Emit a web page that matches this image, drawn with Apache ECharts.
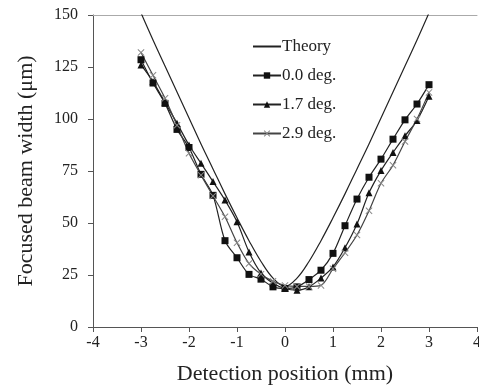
<!DOCTYPE html>
<html>
<head>
<meta charset="utf-8">
<script src="https://cdn.jsdelivr.net/npm/echarts@6/dist/echarts.min.js"></script>
<style>
  html, body { margin: 0; padding: 0; background: #fff; }
  #chart { width: 479px; height: 389px; }
</style>
</head>
<body>
<div id="chart"></div>
<script>
// detection positions (mm)
const positions = [-3, -2.75, -2.5, -2.25, -2, -1.75, -1.5, -1.25, -1, -0.75, -0.5, -0.25, 0,
  0.25, 0.5, 0.75, 1, 1.25, 1.5, 1.75, 2, 2.25, 2.5, 2.75, 3];

const theory = [151, 138, 125.5, 113, 100.5, 88, 76, 64, 52.5, 41.5, 31.5, 23.5, 19.5,
  23.5, 31.5, 41.5, 52.5, 64, 76, 88, 100.5, 113, 125.5, 138, 151];
const deg00 = [128.5, 117.3, 107.5, 95, 86.3, 73.4, 63.3, 41.5, 33.3, 25.3, 23, 19.3, 18.5,
  19.3, 22.8, 27.3, 35.4, 48.7, 61.5, 72, 80.7, 90.3, 99.6, 107.2, 116.5];
const deg17 = [126, 118, 108, 98, 87.5, 78.7, 69.9, 61, 50.6, 36.1, 26, 21, 18.5,
  17.7, 19.3, 23.5, 28.9, 38.1, 49.5, 64.5, 75.2, 83.9, 91.9, 99.3, 110.9];
const deg29 = [132, 121, 110, 97, 83.5, 73, 63, 53, 40.5, 30.5, 25.4, 22, 20,
  19.5, 19.5, 20, 28, 35.7, 44.2, 55.9, 69.1, 77.8, 89.2, 100, 112.8];

const seriesNames = ["Theory", "0.0 deg.", "1.7 deg.", "2.9 deg."];

const toPairs = (vals) => positions.map((x, i) => [x, vals[i]]);

const crossPath = "path://M0,1L1,0L5,4L9,0L10,1L6,5L10,9L9,10L5,6L1,10L0,9L4,5Z";
const serif = "Liberation Serif";

var chartDom = document.getElementById("chart");
var myChart = echarts.init(chartDom);

var option = {
  animation: false,
  textStyle: { fontFamily: serif },
  grid: { left: 93, right: 2, top: 15, bottom: 62, outerBoundsMode: "none" },
  legend: {
    data: [
      { name: seriesNames[0], itemStyle: { opacity: 0 } },
      seriesNames[1],
      seriesNames[2],
      seriesNames[3],
    ],
    orient: "vertical",
    left: 247,
    top: 33,
    itemGap: 12,
    itemWidth: 28,
    itemHeight: 8,
    textStyle: { fontFamily: serif, fontSize: 17, color: "#222", padding: [0, 0, 0, -4] },
  },
  xAxis: [
    {
      type: "value",
      min: -4,
      max: 4,
      interval: 1,
      name: "Detection position (mm)",
      nameLocation: "middle",
      nameGap: 36,
      nameTextStyle: { fontFamily: serif, fontSize: 22, color: "#222" },
      axisLine: { onZero: false, lineStyle: { color: "#555", width: 1 } },
      axisTick: { show: true, length: 5, lineStyle: { color: "#555" } },
      axisLabel: { fontFamily: serif, fontSize: 16, color: "#222", margin: 8 },
      splitLine: { show: false },
    },
    {
      type: "value",
      position: "top",
      min: -4,
      max: 4,
      axisLine: { show: true, onZero: false, lineStyle: { color: "#aaa", width: 1 } },
      axisTick: { show: false },
      axisLabel: { show: false },
      splitLine: { show: false },
    },
  ],
  yAxis: {
    type: "value",
    min: 0,
    max: 150,
    interval: 25,
    name: "Focused beam width (μm)",
    nameLocation: "middle",
    nameGap: 56,
    nameTextStyle: { fontFamily: serif, fontSize: 22, color: "#222" },
    axisLine: { show: true, onZero: false, lineStyle: { color: "#555", width: 1 } },
    axisTick: { show: true, length: 5, lineStyle: { color: "#555" } },
    axisLabel: { fontFamily: serif, fontSize: 16, color: "#222", margin: 15 },
    splitLine: { show: false },
  },
  series: [
    {
      name: seriesNames[0],
      type: "line",
      smooth: 0.4,
      showSymbol: false,
      symbol: "none",
      clip: true,
      lineStyle: { color: "#222", width: 1.2 },
      itemStyle: { color: "#222" },
      data: toPairs(theory),
    },
    {
      name: seriesNames[1],
      type: "line",
      smooth: 0.3,
      symbol: "rect",
      symbolSize: 7,
      lineStyle: { color: "#222", width: 1.2 },
      itemStyle: { color: "#111" },
      data: toPairs(deg00),
    },
    {
      name: seriesNames[2],
      type: "line",
      smooth: 0.3,
      symbol: "triangle",
      symbolSize: 7,
      lineStyle: { color: "#222", width: 1.2 },
      itemStyle: { color: "#111" },
      data: toPairs(deg17),
    },
    {
      name: seriesNames[3],
      type: "line",
      smooth: 0.3,
      symbol: crossPath,
      symbolSize: 7,
      lineStyle: { color: "#444", width: 1.2 },
      itemStyle: { color: "#888" },
      data: toPairs(deg29),
    },
  ],
};

option && myChart.setOption(option);
</script>
</body>
</html>
